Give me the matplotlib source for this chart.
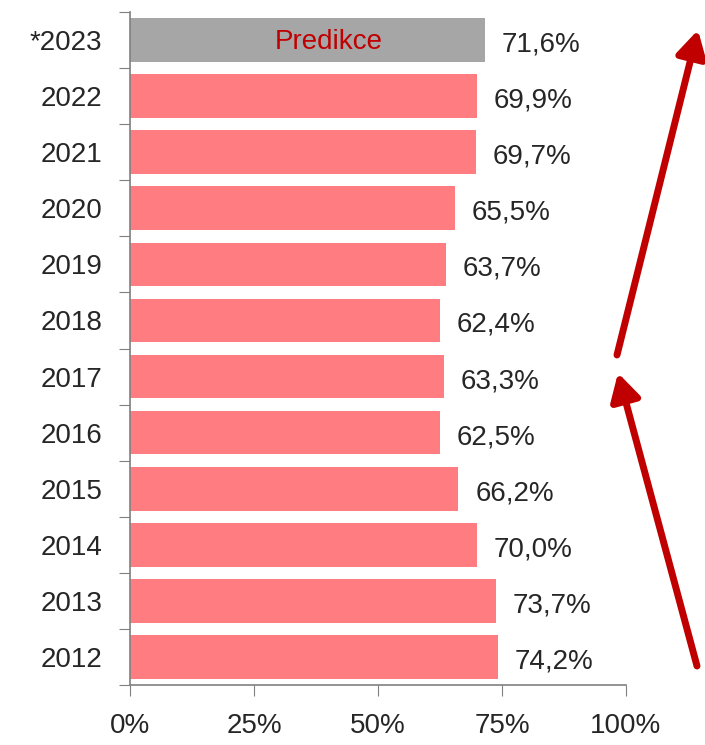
import matplotlib.pyplot as plt
from matplotlib.ticker import FuncFormatter

plt.rcParams['font.family'] = ['Liberation Sans', 'DejaVu Sans']

years = ["2012", "2013", "2014", "2015", "2016", "2017", "2018", "2019", "2020", "2021", "2022", "*2023"]
values = [74.2, 73.7, 70.0, 66.2, 62.5, 63.3, 62.4, 63.7, 65.5, 69.7, 69.9, 71.6]
labels = ["74,2%", "73,7%", "70,0%", "66,2%", "62,5%", "63,3%", "62,4%", "63,7%", "65,5%", "69,7%", "69,9%", "71,6%"]
xticks = [0, 25, 50, 75, 100]

pink = "#FF7C80"
grey = "#A6A6A6"
dark_red = "#C00000"
txt = "#262626"
fs = 20

fig = plt.figure(figsize=(7.05, 7.45), dpi=100)
ax = fig.add_axes([130 / 705, 60 / 745, 496 / 705, 673 / 745])

colors = [pink] * (len(years) - 1) + [grey]
pos = list(range(len(years)))
ax.barh(pos, values, height=0.78, color=colors)

for p, v, lab in zip(pos, values, labels):
    ax.text(v + 3.4, p - 0.08, lab, va="center", ha="left", fontsize=fs, color=txt)

ax.text(40, pos[-1] - 0.03, "Predikce", va="center", ha="center",
        fontsize=fs, color=dark_red)

ax.set_xlim(0, 100)
ax.set_ylim(-0.5, len(years) - 0.5)
ax.set_xticks(xticks)
ax.xaxis.set_major_formatter(FuncFormatter(lambda x, _: f"{int(x)}%"))

# y ticks on category boundaries, labels in the middle
ax.set_yticks([p - 0.5 for p in pos] + [pos[-1] + 0.5])
ax.set_yticklabels([])
ax.set_yticks(pos, minor=True)
ax.set_yticklabels(years, minor=True)
ax.tick_params(axis="y", which="minor", length=0, labelsize=fs, pad=20, labelcolor=txt)
ax.tick_params(axis="y", which="major", length=8, color="#808080", direction="out")
ax.tick_params(axis="x", length=8, color="#808080", labelsize=fs, pad=12, labelcolor=txt)

for s in ["top", "right"]:
    ax.spines[s].set_visible(False)
for s in ["left", "bottom"]:
    ax.spines[s].set_color("#808080")
    ax.spines[s].set_linewidth(1.2)

# trend arrows
arrow_style = dict(arrowstyle="-|>,head_length=1.6,head_width=0.9", color=dark_red, lw=5,
                   shrinkA=0, shrinkB=0)
ax.annotate("", xy=(618, 745 - 373), xycoords="figure pixels",
            xytext=(697, 745 - 666), textcoords="figure pixels", arrowprops=arrow_style)
ax.annotate("", xy=(698, 745 - 30), xycoords="figure pixels",
            xytext=(617, 745 - 355), textcoords="figure pixels", arrowprops=arrow_style)

fig.savefig("out.png", dpi=100)
